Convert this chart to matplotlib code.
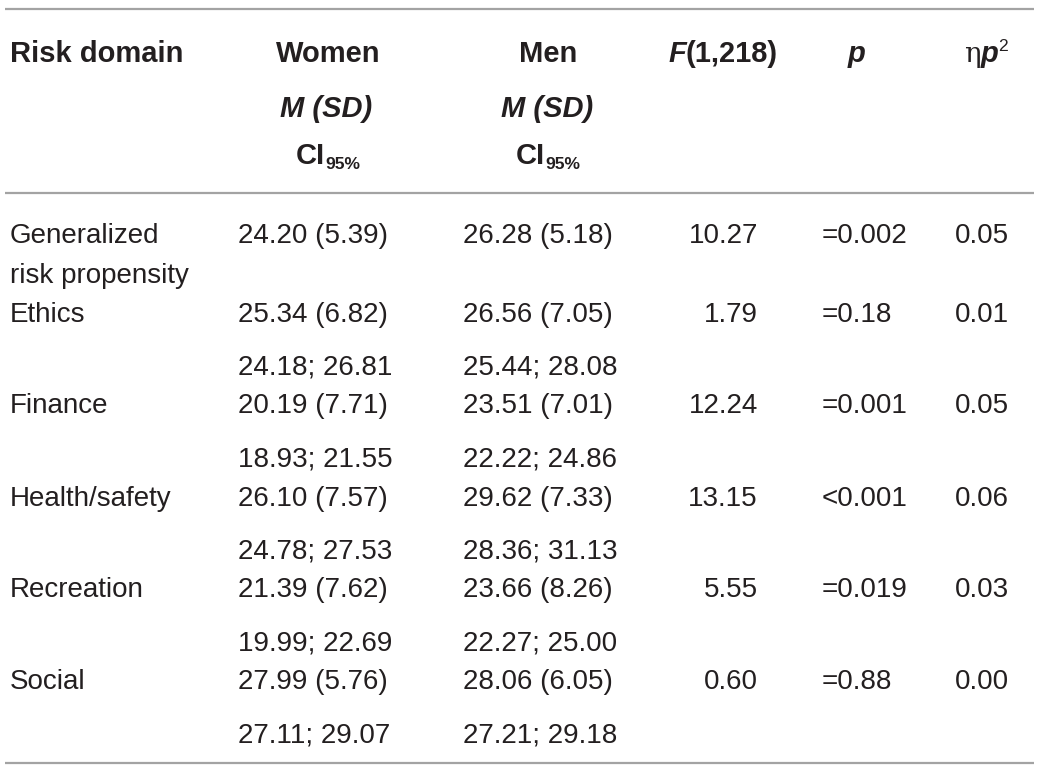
import matplotlib
matplotlib.use('Agg')
import matplotlib.pyplot as plt
from matplotlib.font_manager import FontProperties

# table content
domains = ['Generalized\nrisk propensity', 'Ethics', 'Finance', 'Health/safety', 'Recreation', 'Social']
women_msd = ['24.20 (5.39)', '25.34 (6.82)', '20.19 (7.71)', '26.10 (7.57)', '21.39 (7.62)', '27.99 (5.76)']
women_ci = ['', '24.18; 26.81', '18.93; 21.55', '24.78; 27.53', '19.99; 22.69', '27.11; 29.07']
men_msd = ['26.28 (5.18)', '26.56 (7.05)', '23.51 (7.01)', '29.62 (7.33)', '23.66 (8.26)', '28.06 (6.05)']
men_ci = ['', '25.44; 28.08', '22.22; 24.86', '28.36; 31.13', '22.27; 25.00', '27.21; 29.18']
f_vals = ['10.27', '1.79', '12.24', '13.15', '5.55', '0.60']
p_vals = ['=0.002', '=0.18', '=0.001', '<0.001', '=0.019', '=0.88']
eta_vals = ['0.05', '0.01', '0.05', '0.06', '0.03', '0.00']

W, H = 1043, 774
fig = plt.figure(figsize=(W / 100, H / 100), dpi=100)
ax = fig.add_axes([0, 0, 1, 1])
ax.set_xlim(0, W)
ax.set_ylim(H, 0)
ax.axis('off')

FAM = 'Liberation Sans'
FS = 20
HS = 21
TXT = '#231f20'
reg = FontProperties(family=FAM, size=FS)
bold = FontProperties(family=FAM, size=HS, weight='bold')
bit = FontProperties(family=FAM, size=HS, weight='bold', style='italic')
small_b = FontProperties(family=FAM, size=HS * 0.6, weight='bold')
small_r = FontProperties(family=FAM, size=HS * 0.6)
eta_fp = FontProperties(family='DejaVu Serif', size=HS * 0.95)

renderer = fig.canvas.get_renderer()


def run_text(x, y, runs, ha='center'):
    # runs: list of (string, fontprops, dy in px)
    widths = []
    for s, fp, dy in runs:
        t = ax.text(0, 0, s, fontproperties=fp)
        widths.append(t.get_window_extent(renderer).width)
        t.remove()
    total = sum(widths)
    if ha == 'center':
        x0 = x - total / 2
    elif ha == 'right':
        x0 = x - total
    else:
        x0 = x
    for (s, fp, dy), w in zip(runs, widths):
        ax.text(x0, y + dy, s, fontproperties=fp, color=TXT, ha='left', va='baseline')
        x0 += w


# rules
line_col = '#a3a3a3'
for yy in (9, 193, 763):
    ax.plot([5, 1034], [yy, yy], color=line_col, lw=1.6, solid_capstyle='butt')

# header (baselines)
hb1, hb2, hb3 = 62, 117, 164
run_text(10, hb1, [('Risk domain', bold, 0)], ha='left')
run_text(328, hb1, [('Women', bold, 0)])
run_text(548, hb1, [('Men', bold, 0)])
run_text(723, hb1, [('F', bit, 0), ('(1,218)', bold, 0)])
run_text(857, hb1, [('p', bit, 0)])
run_text(986, hb1, [('\u03b7', eta_fp, 0), ('p', bit, 0), ('2', small_r, -11)])
run_text(326, hb2, [('M (SD)', bit, 0)])
run_text(547, hb2, [('M (SD)', bit, 0)])
run_text(328, hb3, [('CI', bold, 0), ('95%', small_b, 5)])
run_text(548, hb3, [('CI', bold, 0), ('95%', small_b, 5)])

# body
main_y = [234, 313, 404, 497, 588, 680]
ci_y = [366, 458, 550, 642, 733]
off = 9  # center -> baseline
for i, name in enumerate(domains):
    yb = main_y[i] + off
    lines = name.split('\n')
    run_text(10, yb, [(lines[0], reg, 0)], ha='left')
    if len(lines) > 1:
        run_text(10, 274 + off, [(lines[1], reg, 0)], ha='left')
    run_text(238, yb, [(women_msd[i], reg, 0)], ha='left')
    run_text(463, yb, [(men_msd[i], reg, 0)], ha='left')
    run_text(758, yb, [(f_vals[i], reg, 0)], ha='right')
    run_text(822, yb, [(p_vals[i], reg, 0)], ha='left')
    run_text(955, yb, [(eta_vals[i], reg, 0)], ha='left')
    if women_ci[i]:
        yc = ci_y[i - 1] + off
        run_text(238, yc, [(women_ci[i], reg, 0)], ha='left')
        run_text(463, yc, [(men_ci[i], reg, 0)], ha='left')

fig.savefig('out.png', dpi=100, facecolor='white')
